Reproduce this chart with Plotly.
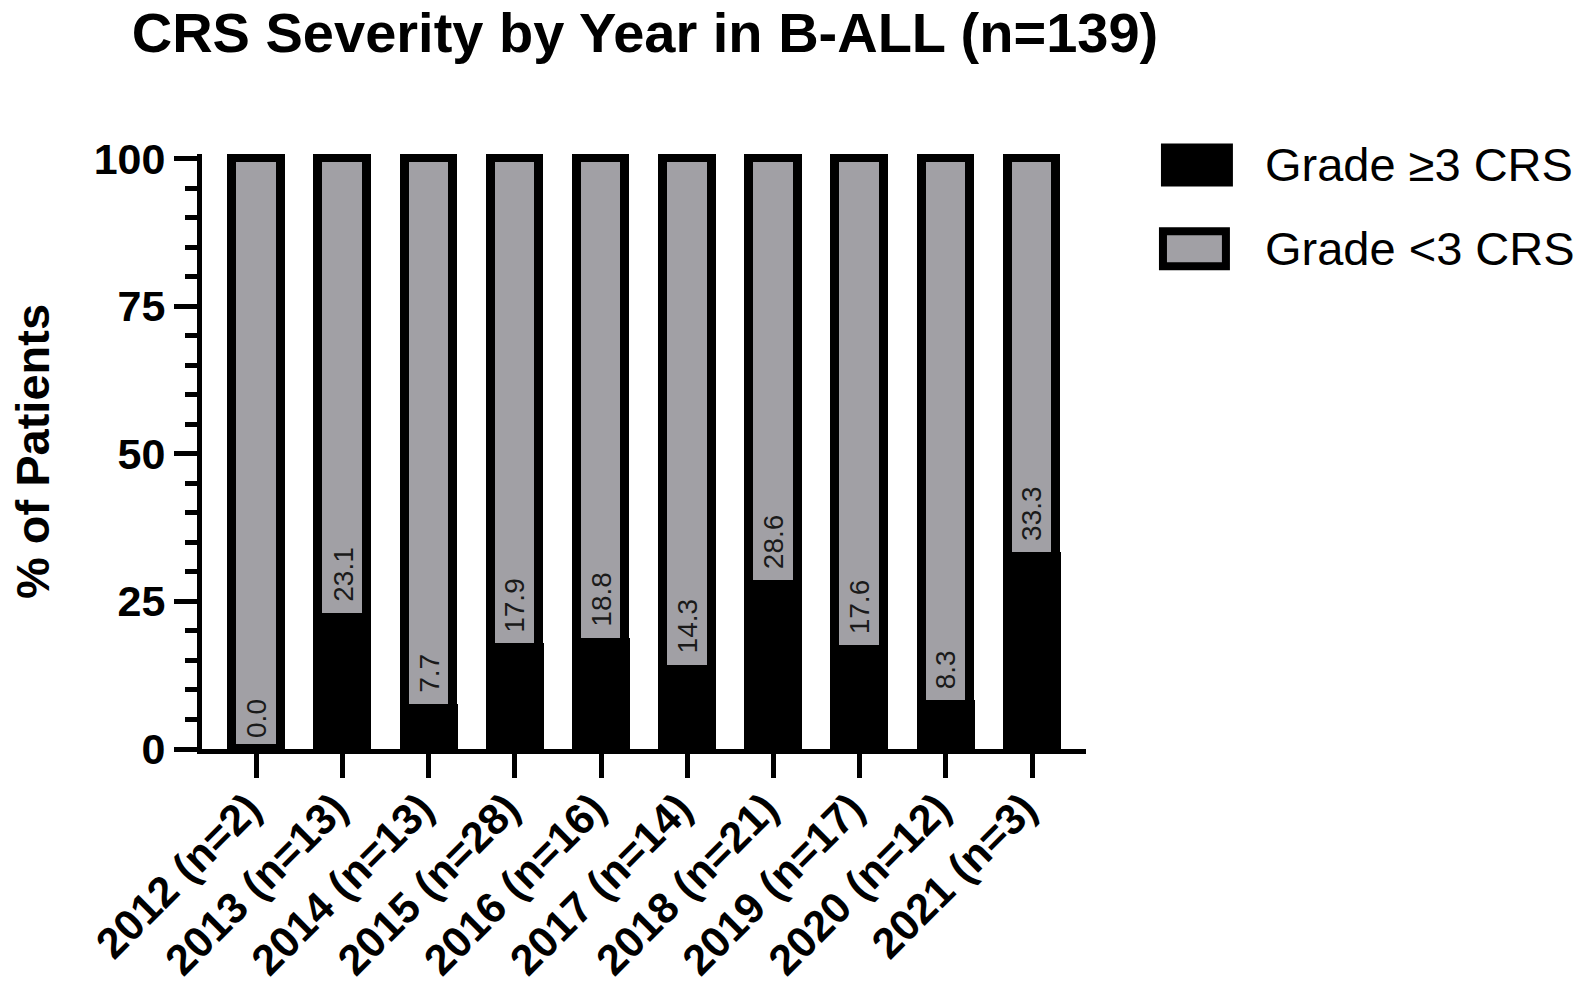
import plotly.graph_objects as go

# ---- data ----
years = ["2012 (n=2)", "2013 (n=13)", "2014 (n=13)", "2015 (n=28)", "2016 (n=16)",
         "2017 (n=14)", "2018 (n=21)", "2019 (n=17)", "2020 (n=12)", "2021 (n=3)"]
grade_high = [0.0, 23.1, 7.7, 17.9, 18.8, 14.3, 28.6, 17.6, 8.3, 33.3]
grade_low = [100.0, 76.9, 92.3, 82.1, 81.2, 85.7, 71.4, 82.4, 91.7, 66.7]
labels_high = ["0.0", "23.1", "7.7", "17.9", "18.8", "14.3", "28.6", "17.6", "8.3", "33.3"]
y_ticks = [0, 25, 50, 75, 100]

W, H = 1583, 992
L, R, T, B = 201.5, 497, 153.5, 242.5
FONT = "Liberation Sans, Arial, sans-serif"
GRAY = "#A1A0A5"

def px_x(px):
    return (px - L) / (W - L - R)

def px_y(py):
    return 1 - (py - T) / (H - T - B)

totals = [h + l for h, l in zip(grade_high, grade_low)]

fig = go.Figure()
# black segment (Grade >=3)
fig.add_trace(go.Bar(x=years, y=grade_high, width=0.667, marker=dict(color="black", line=dict(width=0)),
                     name="Grade ≥3 CRS", showlegend=False, hoverinfo="skip"))
# gray segment (Grade <3)
fig.add_trace(go.Bar(x=years, y=grade_low, base=grade_high, width=0.5625,
                     marker=dict(color=GRAY, line=dict(width=0)),
                     name="Grade <3 CRS", showlegend=False, hoverinfo="skip"))
# outline of full bar
fig.add_trace(go.Bar(x=years, y=totals, width=0.5625,
                     marker=dict(color="rgba(0,0,0,0)", line=dict(width=9, color="black")),
                     showlegend=False, hoverinfo="skip"))

fig.update_layout(
    barmode="overlay",
    width=W, height=H,
    margin=dict(l=L, r=R, t=T, b=B, pad=0, autoexpand=False),
    plot_bgcolor="white", paper_bgcolor="white",
    font=dict(family=FONT, color="black"),
    title=dict(text="<b>CRS Severity by Year in B-ALL (n=139)</b>", x=645 / W, xanchor="center",
               xref="container", y=1 - 32 / H, yref="container", yanchor="middle",
               font=dict(family=FONT, size=56, color="black"), automargin=False),
    bargap=0,
)

fig.update_xaxes(
    range=[-0.632, 9.626], showgrid=False, zeroline=False, automargin=False,
    showline=True, linewidth=5, linecolor="black",
    ticks="outside", ticklen=24, tickwidth=5, tickcolor="black",
    tickangle=-45, ticklabelstandoff=-12, ticklabelshift=-8,
    tickfont=dict(family=FONT, size=43, color="black", weight="bold"),
)
fig.update_yaxes(
    range=[0, 100.76], showgrid=False, zeroline=False, automargin=False,
    showline=True, linewidth=5, linecolor="black",
    tickvals=y_ticks, ticktext=[str(v) for v in y_ticks],
    ticks="outside", ticklen=23, tickwidth=5, tickcolor="black",
    ticklabelstandoff=0,
    tickfont=dict(family=FONT, size=43, color="black", weight="bold"),
    minor=dict(dtick=5, ticks="outside", ticklen=12, tickwidth=5, tickcolor="black"),
    title=dict(text="<b>% of Patients</b>", font=dict(family=FONT, size=47, color="black"), standoff=31),
)

# value labels for Grade >=3 share, placed just above the black segment
for cat, val, lab in zip(years, grade_high, labels_high):
    fig.add_annotation(x=cat, y=val, text=lab, textangle=-90, xanchor="center", yanchor="bottom",
                       yshift=9, showarrow=False,
                       font=dict(family=FONT, size=28, color="#1a1a1a"))

# legend drawn manually
fig.add_shape(type="rect", xref="paper", yref="paper",
              x0=px_x(1161), x1=px_x(1233), y0=px_y(186), y1=px_y(143),
              fillcolor="black", line=dict(width=0))
fig.add_shape(type="rect", xref="paper", yref="paper",
              x0=px_x(1163), x1=px_x(1226), y0=px_y(266), y1=px_y(231),
              fillcolor=GRAY, line=dict(width=8, color="black"))
fig.add_annotation(text="Grade ≥3 CRS", xref="paper", yref="paper", x=px_x(1263), y=px_y(164),
                   xanchor="left", yanchor="middle", showarrow=False,
                   font=dict(family=FONT, size=47, color="black"))
fig.add_annotation(text="Grade <3 CRS", xref="paper", yref="paper", x=px_x(1263), y=px_y(248),
                   xanchor="left", yanchor="middle", showarrow=False,
                   font=dict(family=FONT, size=47, color="black"))

fig.write_html("out.html", config={"displayModeBar": False},
               post_script="document.body.style.margin='0';")
